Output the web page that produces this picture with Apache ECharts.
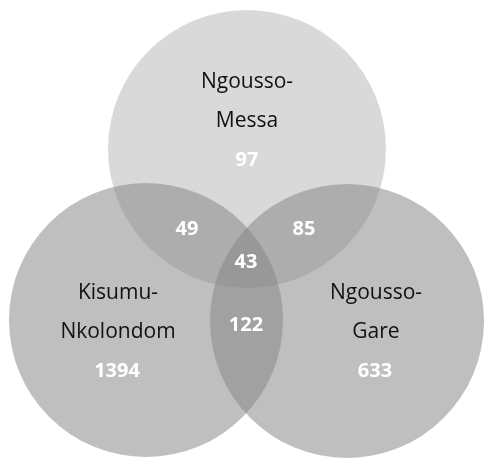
<!DOCTYPE html>
<html>
<head>
<meta charset="utf-8">
<script src="https://cdn.jsdelivr.net/npm/echarts@6/dist/echarts.min.js"></script>
<style>html,body{margin:0;padding:0;background:#fff}#c{width:486px;height:459px}</style>
</head>
<body>
<div id="c"></div>
<script>
// ---- data ----
var setNames = ['Ngousso-\nMessa', 'Kisumu-\nNkolondom', 'Ngousso-\nGare'];
var uniqueCounts = [97, 1394, 633];
var pairLabels = ['Messa∩Kisumu', 'Messa∩Gare', 'Kisumu∩Gare'];
var pairCounts = [49, 85, 122];
var tripleCount = [43];

// ---- layout (pixel-like coordinates on hidden axes) ----
var circleLayout = [
  {cx: 247, cy: 149, r: 139, fill: '#d9d9d9'},
  {cx: 146, cy: 320, r: 137, fill: 'rgba(133,133,133,0.526)'},
  {cx: 347, cy: 321, r: 137, fill: 'rgba(133,133,133,0.526)'}
];
var nameLayout = [[247, 102], [118, 313], [376, 313]];
var uniqueLayout = [[247, 160], [117, 371], [375, 371]];
var pairLayout = [[187, 229], [304, 229], [246, 325]];
var tripleLayout = [[246, 262]];

var circleData = circleLayout.map(function (c, i) { return [c.cx, c.cy, i]; });

var textData = [];
setNames.forEach(function (n, i) { textData.push({value: [nameLayout[i][0], nameLayout[i][1]], text: n, kind: 'name'}); });
uniqueCounts.forEach(function (v, i) { textData.push({value: [uniqueLayout[i][0], uniqueLayout[i][1]], text: String(v), kind: 'num'}); });
pairCounts.forEach(function (v, i) { textData.push({value: [pairLayout[i][0], pairLayout[i][1]], text: String(v), kind: 'num'}); });
tripleCount.forEach(function (v, i) { textData.push({value: [tripleLayout[i][0], tripleLayout[i][1]], text: String(v), kind: 'num'}); });

var chart = echarts.init(document.getElementById('c'), null, {renderer: 'canvas'});
chart.setOption({
  animation: false,
  backgroundColor: '#ffffff',
  grid: {left: 0, right: 0, top: 0, bottom: 0},
  xAxis: {type: 'value', min: 0, max: 486, show: false},
  yAxis: {type: 'value', min: 0, max: 459, inverse: true, show: false},
  series: [
    {
      type: 'custom',
      data: circleData,
      renderItem: function (params, api) {
        var i = api.value(2);
        var c = circleLayout[i];
        var p = api.coord([api.value(0), api.value(1)]);
        var rr = api.size([c.r, c.r]);
        return {type: 'circle', shape: {cx: p[0], cy: p[1], r: rr[0]}, style: {fill: c.fill}};
      }
    },
    {
      type: 'custom',
      data: textData,
      z: 10,
      renderItem: function (params, api) {
        var d = textData[params.dataIndex];
        var p = api.coord([api.value(0), api.value(1)]);
        var isName = d.kind === 'name';
        return {
          type: 'text',
          x: p[0], y: p[1],
          style: {
            text: d.text,
            fill: isName ? '#111111' : '#ffffff',
            font: (isName ? 'normal 21px ' : 'bold 20px ') + '"Open Sans", sans-serif',
            lineHeight: 39,
            align: 'center',
            verticalAlign: 'middle'
          }
        };
      }
    }
  ]
});
</script>
</body>
</html>
